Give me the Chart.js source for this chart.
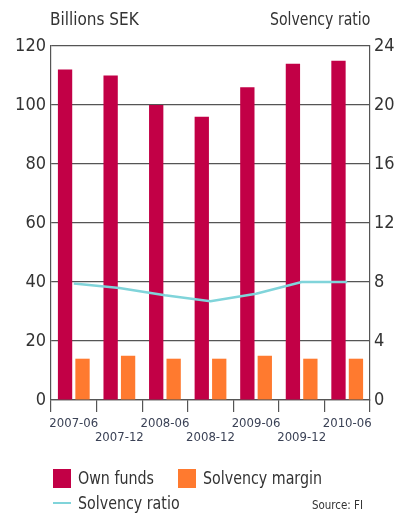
<!DOCTYPE html>
<html>
<head>
<meta charset="utf-8">
<script src="https://cdn.jsdelivr.net/npm/chart.js@4"></script>
<style>
  html, body { margin: 0; padding: 0; background: #fff; }
  #wrap { position: relative; width: 396px; height: 513px; font-family: "DejaVu Sans Condensed", "Liberation Sans Narrow", sans-serif; color: #333; }
  canvas { position: absolute; left: 0; top: 0; }
  .t { position: absolute; white-space: nowrap; transform-origin: 0 0; transform: scaleX(0.88); }
  .sq { position: absolute; width: 18px; height: 19px; }
</style>
</head>
<body>
<div id="wrap">
  <canvas id="c" width="396" height="513"></canvas>
  <div class="t" style="left:50px; top:9px; font-size:17px; transform:none;">Billions SEK</div>
  <div class="t" style="left:270px; top:9px; font-size:17px; transform:scaleX(0.92);">Solvency ratio</div>
  <div class="sq" style="left:53px; top:469px; background:#C20046;"></div>
  <div class="t" style="left:78px; top:467px; font-size:18px;">Own funds</div>
  <div class="sq" style="left:178px; top:469px; background:#FF7A2F;"></div>
  <div class="t" style="left:203px; top:467px; font-size:18px;">Solvency margin</div>
  <div style="position:absolute; left:53px; top:502px; width:18px; height:2px; background:#80D4DA;"></div>
  <div class="t" style="left:78px; top:492px; font-size:18px;">Solvency ratio</div>
  <div class="t" style="left:312px; top:497px; font-size:13px;">Source: FI</div>
</div>
<script>
const categories = ['2007-06', '2007-12', '2008-06', '2008-12', '2009-06', '2009-12', '2010-06'];
const ownFunds = [112, 110, 100, 96, 106, 114, 115];
const solvencyMargin = [14, 15, 14, 14, 15, 14, 14];
const solvencyRatio = [7.9, 7.6, 7.1, 6.7, 7.2, 8.0, 8.0];
const leftTicks = [0, 20, 40, 60, 80, 100, 120];
const rightTicks = [0, 4, 8, 12, 16, 20, 24];

const labels = categories.map((c, i) => i % 2 === 0 ? [c, ''] : ['', c]);
const FONT = '"DejaVu Sans Condensed", "Liberation Sans Narrow", sans-serif';

new Chart(document.getElementById('c'), {
  type: 'bar',
  data: {
    labels: labels,
    datasets: [
      { label: 'Solvency ratio', type: 'line', data: solvencyRatio, yAxisID: 'y1', borderColor: '#80D4DA', borderWidth: 2.5, pointRadius: 0, tension: 0, order: 0 },
      { label: 'Own funds', data: ownFunds, backgroundColor: '#C20046', yAxisID: 'y', barPercentage: 0.82, categoryPercentage: 0.766, order: 1 },
      { label: 'Solvency margin', data: solvencyMargin, backgroundColor: '#FF7A2F', yAxisID: 'y', barPercentage: 0.82, categoryPercentage: 0.766, order: 1 }
    ]
  },
  options: {
    responsive: false,
    animation: false,
    layout: { padding: { top: 46, left: 0, right: 0, bottom: 0 } },
    plugins: { legend: { display: false }, tooltip: { enabled: false } },
    scales: {
      x: {
        grid: { display: true, drawOnChartArea: false, drawTicks: true, tickLength: 12, color: '#555', lineWidth: 1.2 },
        border: { display: true, color: '#555', width: 1.2 },
        ticks: { color: '#3B4256', font: { family: FONT, size: 13, lineHeight: 1.05 }, maxRotation: 0, autoSkip: false, padding: 5 },
        afterFit: s => { s.height = 113; }
      },
      y: {
        position: 'left',
        min: 0, max: 120,
        afterBuildTicks: s => { s.ticks = leftTicks.map(v => ({ value: v })); },
        grid: { color: '#555', lineWidth: 1.2, drawTicks: false },
        border: { color: '#555', width: 1.2 },
        ticks: { color: '#333', font: { family: FONT, size: 18 }, padding: 5 },
        afterFit: s => { s.width = 51; }
      },
      y1: {
        position: 'right',
        min: 0, max: 24,
        afterBuildTicks: s => { s.ticks = rightTicks.map(v => ({ value: v })); },
        grid: { drawOnChartArea: false, drawTicks: false },
        border: { color: '#555', width: 1.2 },
        ticks: { color: '#333', font: { family: FONT, size: 18 }, padding: 4 },
        afterFit: s => { s.width = 26; }
      }
    }
  }
});
</script>
</body>
</html>
